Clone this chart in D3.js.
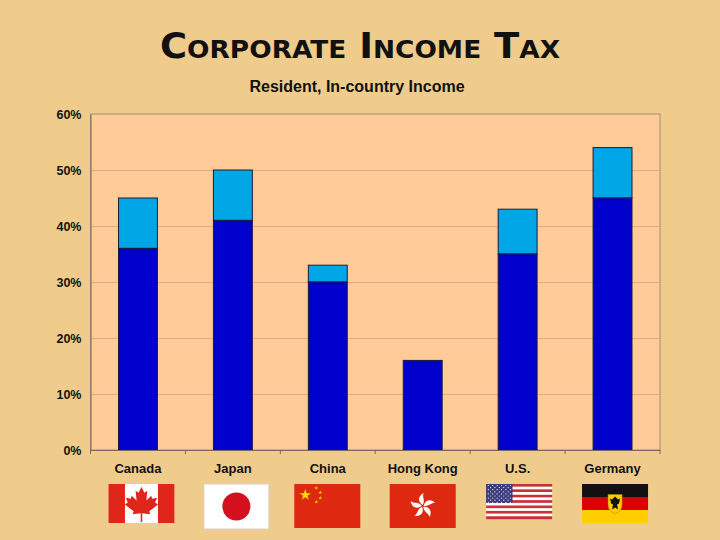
<!DOCTYPE html>
<html><head><meta charset="utf-8">
<script src="https://cdn.jsdelivr.net/npm/d3@7"></script>
<style>body{margin:0;background:#efcc8b;}svg{display:block;}</style>
</head><body>
<script>
const categories = ["Canada","Japan","China","Hong Kong","U.S.","Germany"];
const baseRate = [36, 41, 30, 16, 35, 45];
const totalRate = [45, 50, 33, 16, 43, 54];
const yTicks = [0,10,20,30,40,50,60];

const W=720,H=540;
const m={l:90.5,r:60,t:114,b:90};
const svg=d3.select("body").append("svg").attr("width",W).attr("height",H);
svg.append("rect").attr("width",W).attr("height",H).attr("fill","#efcc8b");

svg.append("text").attr("x",360).attr("y",58).attr("text-anchor","middle")
 .attr("font-family","DejaVu Sans").attr("font-weight","bold").attr("font-size",35)
 .style("font-variant","small-caps").attr("textLength",400).attr("lengthAdjust","spacingAndGlyphs")
 .attr("fill","#111").text("Corporate Income Tax");
svg.append("text").attr("x",357).attr("y",92).attr("text-anchor","middle")
 .attr("font-family","Liberation Sans, Arial").attr("font-weight","bold").attr("font-size",16)
 .attr("fill","#111").text("Resident, In-country Income");

const x=d3.scaleBand().domain(categories).range([m.l,W-m.r]).paddingInner(0.59).paddingOuter(0.295);
const y=d3.scaleLinear().domain([0,60]).range([H-m.b,m.t]);

svg.append("rect").attr("x",m.l).attr("y",m.t).attr("width",W-m.r-m.l).attr("height",H-m.b-m.t)
 .attr("fill","#ffcc99").attr("stroke","#a08c78").attr("stroke-width",1);

svg.append("g").selectAll("line").data(yTicks.filter(d=>d>0&&d<60)).join("line")
 .attr("x1",m.l).attr("x2",W-m.r).attr("y1",d=>Math.round(y(d))+0.5).attr("y2",d=>Math.round(y(d))+0.5)
 .attr("stroke","#dcab78").attr("stroke-width",1);

const bars=svg.append("g");
categories.forEach((c,i)=>{
  if(totalRate[i]>baseRate[i]){
    bars.append("rect").attr("x",x(c)).attr("width",x.bandwidth())
      .attr("y",y(totalRate[i])).attr("height",y(baseRate[i])-y(totalRate[i]))
      .attr("fill","#00a6e6").attr("stroke","#1a1a3a").attr("stroke-width",1);
  }
  bars.append("rect").attr("x",x(c)).attr("width",x.bandwidth())
    .attr("y",y(baseRate[i])).attr("height",y(0)-y(baseRate[i]))
    .attr("fill","#0000cc").attr("stroke","#1a1a3a").attr("stroke-width",1);
});

const ya=svg.append("g").attr("transform",`translate(${m.l},0)`)
 .call(d3.axisLeft(y).tickValues(yTicks).tickFormat(d=>d+"%").tickSize(0).tickPadding(9));
ya.select(".domain").attr("stroke","#7a6a5a");
ya.selectAll("text").attr("font-family","Liberation Sans, Arial").attr("font-weight","bold").attr("font-size",12.5).attr("fill","#111");

const xa=svg.append("g").attr("transform",`translate(0,${H-m.b})`)
 .call(d3.axisBottom(x).tickSize(0).tickPadding(14));
xa.select(".domain").attr("stroke","#7a6a5a");
xa.selectAll("text").attr("font-family","Liberation Sans, Arial").attr("font-weight","bold").attr("font-size",13).attr("fill","#111");
const step=x.step();
svg.append("g").selectAll("line").data(d3.range(categories.length+1)).join("line")
 .attr("x1",d=>m.l+d*step).attr("x2",d=>m.l+d*step).attr("y1",H-m.b).attr("y2",H-m.b+4).attr("stroke","#7a6a5a");

// Flags
const flagShift=[3.5,3.5,-0.5,0,1.5,2.5];
const fg=svg.append("g");
function flagBox(i,w,h){const cx=x(categories[i])+x.bandwidth()/2+flagShift[i];return {x:cx-w/2,y:484,w,h};}
// Canada
(function(){const b=flagBox(0,66,39);const g=fg.append("g").attr("transform",`translate(${b.x},${b.y})`);
 g.append("rect").attr("width",b.w).attr("height",b.h).attr("fill","#fff");
 g.append("rect").attr("width",b.w/4).attr("height",b.h).attr("fill","#e0251b");
 g.append("rect").attr("x",b.w*3/4).attr("width",b.w/4).attr("height",b.h).attr("fill","#e0251b");
 const s=b.h/2/10;
 g.append("path").attr("transform",`translate(${b.w/2},${b.h/2+1}) scale(${s})`)
  .attr("d","M0,-9 L1.5,-6 L3,-7 L2.5,-2 L5,-4.5 L5.5,-3 L8,-3.5 L7,-1 L8.5,0 L4,3.5 L4.5,5 L0.4,4.5 L0.4,9 L-0.4,9 L-0.4,4.5 L-4.5,5 L-4,3.5 L-8.5,0 L-7,-1 L-8,-3.5 L-5.5,-3 L-5,-4.5 L-2.5,-2 L-3,-7 L-1.5,-6 Z")
  .attr("fill","#e0251b");
})();
// Japan
(function(){const b=flagBox(1,65,45);const g=fg.append("g").attr("transform",`translate(${b.x},${b.y})`);
 g.append("rect").attr("width",b.w).attr("height",b.h).attr("fill","#fff").attr("stroke","#d8d0c8");
 g.append("circle").attr("cx",b.w/2).attr("cy",b.h/2).attr("r",14).attr("fill","#d4101e");
})();
// China
(function(){const b=flagBox(2,66,44);const g=fg.append("g").attr("transform",`translate(${b.x},${b.y})`);
 g.append("rect").attr("width",b.w).attr("height",b.h).attr("fill","#de2910");
 const star=(r)=>{const p=[];for(let k=0;k<10;k++){const a=-Math.PI/2+k*Math.PI/5;const rr=k%2?r*0.38:r;p.push([rr*Math.cos(a),rr*Math.sin(a)]);}return "M"+p.join("L")+"Z";};
 g.append("path").attr("d",star(6)).attr("transform","translate(11,11)").attr("fill","#ffde00");
 [[22,4],[26,8.5],[26,14],[22,18]].forEach(p=>g.append("path").attr("d",star(2)).attr("transform",`translate(${p[0]},${p[1]})`).attr("fill","#ffde00"));
})();
// Hong Kong
(function(){const b=flagBox(3,66,44);const g=fg.append("g").attr("transform",`translate(${b.x},${b.y})`);
 g.append("rect").attr("width",b.w).attr("height",b.h).attr("fill","#de2910");
 const c=g.append("g").attr("transform",`translate(${b.w/2},${b.h/2})`);
 for(let k=0;k<5;k++){c.append("path").attr("transform",`rotate(${k*72})`)
   .attr("d","M0,-1 C-5,-4 -5,-10 1,-13 C-1,-9 3,-6 0,-1 Z").attr("fill","#fff");}
})();
// US
(function(){const b=flagBox(4,66,35);const g=fg.append("g").attr("transform",`translate(${b.x},${b.y})`);
 const sh=b.h/13;
 for(let k=0;k<13;k++) g.append("rect").attr("y",k*sh).attr("width",b.w).attr("height",sh+0.2).attr("fill",k%2?"#fff":"#c8303c");
 g.append("rect").attr("width",b.w*0.4).attr("height",sh*7).attr("fill","#3c3b7e");
 for(let r=0;r<9;r++)for(let cc=0;cc<(r%2?5:6);cc++)
   g.append("circle").attr("cx",2.2+cc*4.4+(r%2?2.2:0)).attr("cy",1.5+r*2.1).attr("r",0.6).attr("fill","#fff");
})();
// Germany
(function(){const b=flagBox(5,66,39);const g=fg.append("g").attr("transform",`translate(${b.x},${b.y})`);
 ["#111","#dd0000","#ffce00"].forEach((c,k)=>g.append("rect").attr("y",k*b.h/3).attr("width",b.w).attr("height",b.h/3+0.2).attr("fill",c));
 g.append("path").attr("d",`M${b.w/2-7},${b.h/2-9} h14 v10 q0,7 -7,9 q-7,-2 -7,-9 Z`).attr("fill","#ffce00").attr("stroke","#b08000").attr("stroke-width",0.5);
 g.append("path").attr("d",`M${b.w/2},${b.h/2-7} l3,3 l2,-1 l-1,5 l-2,1 l1,5 l-3,-2 l-3,2 l1,-5 l-2,-1 l-1,-5 l2,1 Z`).attr("fill","#111");
})();
</script>
</body></html>
